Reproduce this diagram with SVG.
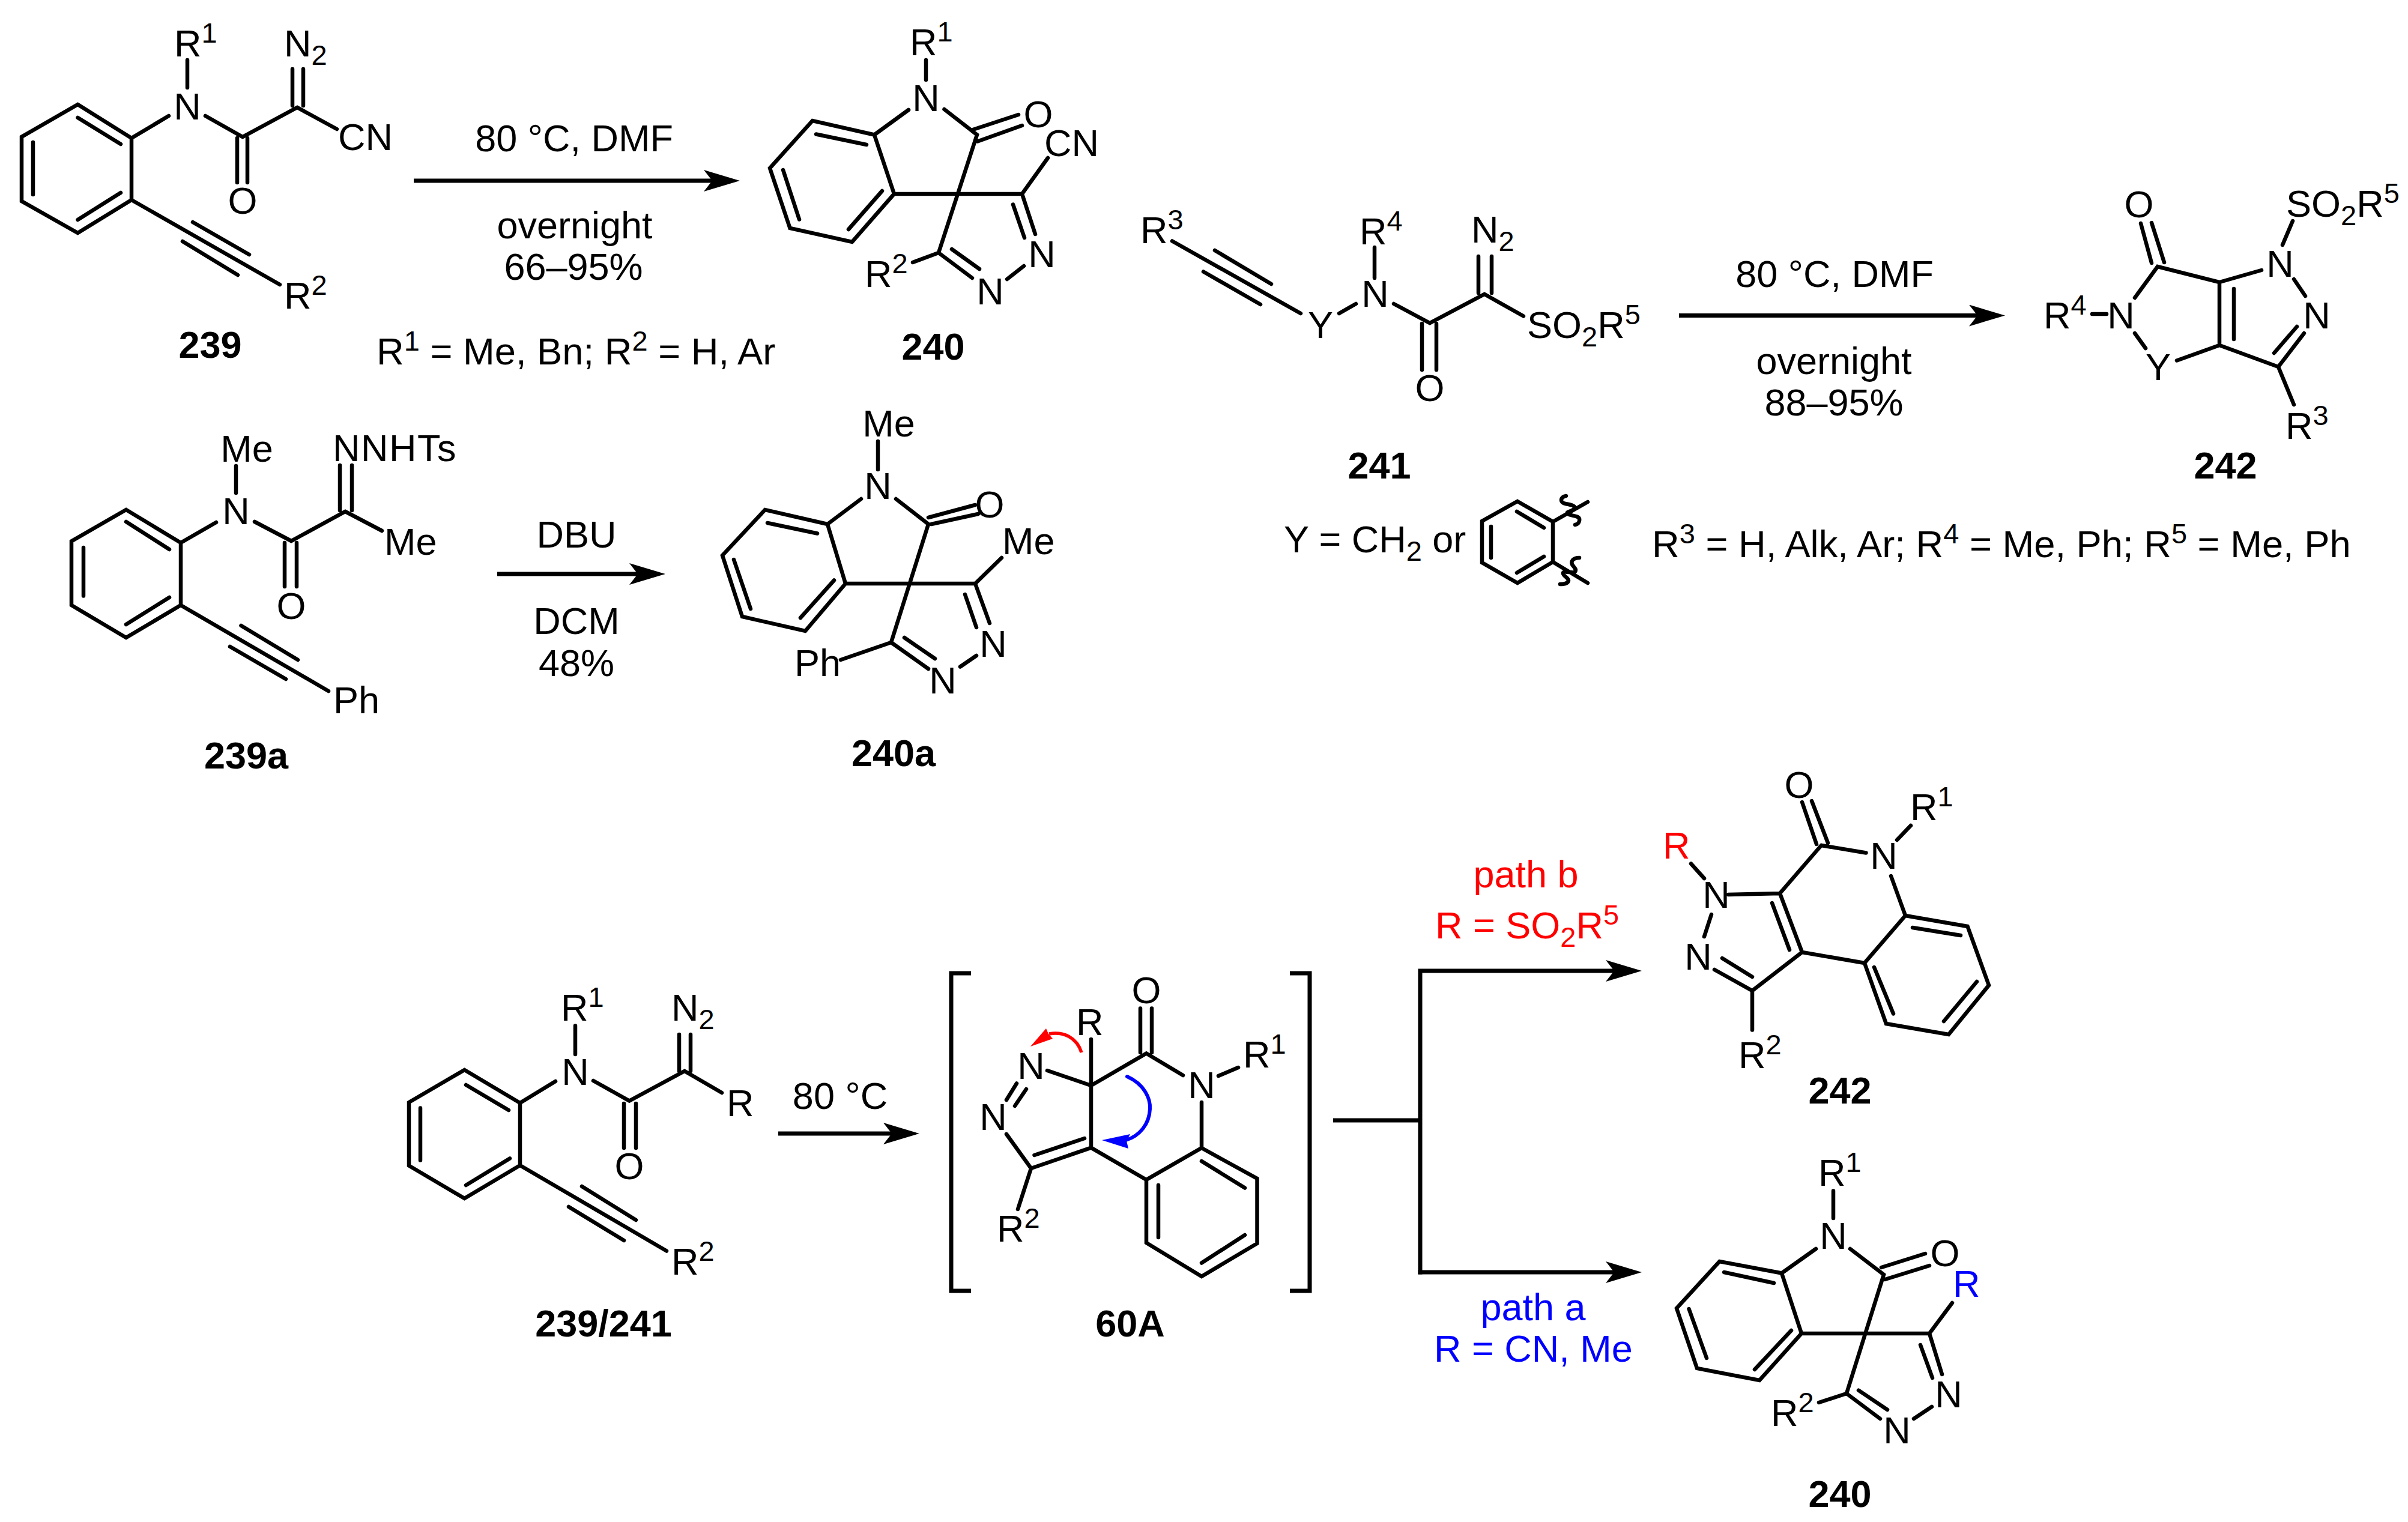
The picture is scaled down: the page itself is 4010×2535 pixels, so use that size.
<svg xmlns="http://www.w3.org/2000/svg" width="4010" height="2535" viewBox="0 0 4010 2535">
<style>
text{font-family:"Liberation Sans",Arial,sans-serif;font-size:63px;fill:#000}
.m{text-anchor:middle}
.h{font-weight:700;text-anchor:middle}
.s{font-size:47px}
.w{font-size:63.300px}
.b{fill:none;stroke:#000;stroke-width:6.500;stroke-linecap:round;stroke-linejoin:miter}
.a{fill:none;stroke:#000;stroke-width:7}
.red{fill:#f00}
.blue{fill:#00f}
</style>
<defs>
<marker id="head" markerUnits="userSpaceOnUse" viewBox="0 0 60 36" refX="14" refY="18" markerWidth="60" markerHeight="36" orient="auto"><path d="M60 18L0 0L14 18L0 36Z" fill="#000"/></marker>
</defs>
<rect width="4010" height="2535" fill="#fff"/>
<g id="connectors">
<path class="a" marker-end="url(#head)" d="M689 301H1186"/>
<path class="a" marker-end="url(#head)" d="M2796 525.500H3293"/>
<path class="a" marker-end="url(#head)" d="M828 956H1062"/>
<path class="a" marker-end="url(#head)" d="M1296 1888H1485"/>
<path class="a" d="M2220 1866H2365"/>
<path class="a" marker-end="url(#head)" d="M2365 2122.500V1617H2688"/>
<path class="a" marker-end="url(#head)" d="M2361.500 2119H2688"/>
<path fill="none" stroke="#f00" stroke-width="5.500" d="M1801 1753C1793 1728 1772 1718 1747 1722"/>
<path fill="#f00" d="M1716 1743L1742 1713L1746 1722L1753 1730Z"/>
<path fill="none" stroke="#00f" stroke-width="6" stroke-linecap="round" d="M1877 1793C1906 1806 1916 1830 1915 1847C1914 1872 1898 1892 1875 1899"/>
<path fill="#00f" d="M1835 1899L1882 1889L1876 1900L1879 1913Z"/>
</g>
<g id="reaction-labels">
<text class="m" x="956" y="252">80 °C, DMF</text>
<text class="m" x="957" y="397">overnight</text>
<text class="m" x="955" y="466">66–95%</text>
<text class="w" x="627" y="607">R<tspan class="s" dy="-23">1</tspan><tspan dy="23"> = Me, Bn; R</tspan><tspan class="s" dy="-23">2</tspan><tspan dy="23"> = H, Ar</tspan></text>
<text class="m" x="3055" y="478">80 °C, DMF</text>
<text class="m" x="3054" y="623">overnight</text>
<text class="m" x="3054" y="692">88–95%</text>
<text x="2138" y="920">Y = CH<tspan class="s" dy="14">2</tspan><tspan dy="-14"> or</tspan></text>
<text class="w" x="2751" y="928">R<tspan class="s" dy="-23">3</tspan><tspan dy="23"> = H, Alk, Ar; R</tspan><tspan class="s" dy="-23">4</tspan><tspan dy="23"> = Me, Ph; R</tspan><tspan class="s" dy="-23">5</tspan><tspan dy="23"> = Me, Ph</tspan></text>
<text class="m" x="960" y="912">DBU</text>
<text class="m" x="960" y="1056">DCM</text>
<text class="m" x="960" y="1126">48%</text>
<text class="m" x="1399" y="1847">80 °C</text>
<text class="m red" x="2541" y="1478">path b</text>
<text class="red" x="2390" y="1563">R = SO<tspan class="s" dy="14">2</tspan><tspan dy="-14">R</tspan><tspan class="s" dy="-23">5</tspan></text>
<text class="m blue" x="2553" y="2199">path a</text>
<text class="blue" x="2388" y="2268">R = CN, Me</text>
</g>
<g id="node-239">
<path class="b" d="M129.500 174L219 230V333L129.500 388L36 335V228ZM55 237V324M129.500 196L201 240M201 321L129.500 366M219 230L281 193M342 193L404 228L495 179L561 215M312 100V146M395 230V304M412 230V304M487 115V176M505 115V176M219 333L466 474M321 370L415 424M304 402L396 458"/>
<text x="473" y="514">R<tspan class="s" dy="-23">2</tspan></text>
<text x="290" y="94">R<tspan class="s" dy="-23">1</tspan></text>
<text class="m" x="312" y="199">N</text>
<text x="473" y="94">N<tspan class="s" dy="14">2</tspan></text>
<text x="563" y="250">CN</text>
<text class="m" x="404" y="356">O</text>
<text class="h" x="350" y="596">239</text>
</g>
<g id="node-240">
<path class="b" d="M1456 224.500L1353 201L1282 280L1315.500 380L1419 403L1489 323ZM1359 223.500L1443 241M1304 283L1331 365.500M1413 382L1469 318M1513 183L1456 224.500M1572.500 182L1627 224.500L1563 421M1620 216L1696 191M1628 235.500L1702 209M1489 323H1702L1745 263M1702 323L1724 390M1687 340.600L1706 396M1705 443L1677 465M1563 421L1619 463M1585 415L1631 448M1563 421L1520 437M1542 100V133"/>
<text x="1515" y="92">R<tspan class="s" dy="-23">1</tspan></text>
<text class="m" x="1542" y="185">N</text>
<text class="m" x="1729" y="212">O</text>
<text x="1739" y="260">CN</text>
<text class="m" x="1735" y="445">N</text>
<text class="m" x="1649" y="507">N</text>
<text x="1440" y="478">R<tspan class="s" dy="-23">2</tspan></text>
<text class="h" x="1554" y="599">240</text>
</g>
<g id="node-241">
<path class="b" d="M1952 401.500L2166 522M2023 417L2117 473M2004 452.500L2099 507M2230 522L2258 506M2289 412V463M2321 506L2381 538L2472 490L2537 526.500M2368 539V616M2392 539V616M2462 427V488M2484 427V488"/>
<text x="1899" y="405">R<tspan class="s" dy="-23">3</tspan></text>
<text x="2264" y="407">R<tspan class="s" dy="-23">4</tspan></text>
<text x="2450" y="404">N<tspan class="s" dy="14">2</tspan></text>
<text class="m" x="2199" y="563">Y</text>
<text class="m" x="2290" y="511">N</text>
<text x="2543" y="563">SO<tspan class="s" dy="14">2</tspan><tspan dy="-14">R</tspan><tspan class="s" dy="-23">5</tspan></text>
<text class="m" x="2381" y="668">O</text>
<text class="h" x="2297" y="797">241</text>
</g>
<g id="node-242">
<path class="b" d="M3565 372L3583 438M3583 371L3604 437M3555 496L3593 444L3696 470V575L3625 600.500M3720 481V565M3696 470L3766 450M3818 368L3801 408M3820 465L3839 493M3837 555L3794 611L3696 575M3825 544L3787 588M3794 611L3820 674M3555 555L3573 580M3484 523H3508"/>
<text class="m" x="3562" y="362">O</text>
<text x="3403" y="547">R<tspan class="s" dy="-23">4</tspan></text>
<text class="m" x="3532" y="547">N</text>
<text class="m" x="3594" y="633">Y</text>
<text class="m" x="3797" y="461">N</text>
<text class="m" x="3858" y="547">N</text>
<text x="3807" y="361">SO<tspan class="s" dy="14">2</tspan><tspan dy="-14">R</tspan><tspan class="s" dy="-23">5</tspan></text>
<text x="3806" y="731">R<tspan class="s" dy="-23">3</tspan></text>
<text class="h" x="3706" y="797">242</text>
</g>
<g id="node-y-arene">
<path class="b" d="M2527 835L2586 869V936L2527 971L2468 937V868ZM2526 852L2571 879M2571 927L2526 954M2483 877V929M2586 869L2644 836M2586 936L2644 971M2608 826C2598 828 2597 837 2607 839C2617 841 2623 842 2622 846C2620 852 2608 852 2610 855C2614 860 2628 858 2630 864C2631 869 2628 873 2623 874M2630 929C2619 929 2616 935 2618 940C2621 945 2626 948 2623 952C2620 956 2606 950 2603 954C2602 959 2612 962 2612 967C2611 972 2604 973 2598 973"/>
</g>
<g id="node-239a">
<path class="b" d="M210 849L301 904V1008L210 1062L119 1008V901.500ZM139 912V992.600M210 869L282 915M282 995L210 1040M301 904L360 870M424 869L485 901L575 852L636 884M393 776V821M474 904V977M494 904V977M566 775V850M586 775V850M301 1008L547 1151M401.500 1042L496 1099M383 1077L476 1131"/>
<text class="m" x="411" y="769">Me</text>
<text class="m" x="393" y="873">N</text>
<text x="554" y="768" letter-spacing="1.500">NNHTs</text>
<text x="640" y="924">Me</text>
<text class="m" x="485" y="1031">O</text>
<text x="555" y="1188">Ph</text>
<text class="h" x="410" y="1280">239a</text>
</g>
<g id="node-240a">
<path class="b" d="M1378 873L1274 849L1203 925L1236 1027L1341 1051L1408 972ZM1278 871L1361 888.500M1222 932L1250 1014M1389 966.500L1333 1029M1434 831L1378 873M1492 831L1546 873L1484 1070M1546 862L1624 841M1551 873L1629 856M1408 972H1624L1668 929M1624 972L1648 1038M1607 990L1626 1045M1626 1092L1599 1110.500M1484 1070L1546 1114M1506 1062L1557 1097M1484 1070L1400 1099M1462 735V782"/>
<text class="m" x="1480" y="727">Me</text>
<text class="m" x="1462" y="831">N</text>
<text class="m" x="1648" y="862">O</text>
<text x="1669" y="923">Me</text>
<text class="m" x="1654" y="1094">N</text>
<text class="m" x="1570" y="1155">N</text>
<text x="1323" y="1126">Ph</text>
<text class="h" x="1488" y="1276">240a</text>
</g>
<g id="node-239-241">
<path class="b" d="M773.500 1782L866 1837V1941L773.500 1996L681 1941.500V1836ZM700 1845.500V1932.600M776 1807L847 1849M849 1929.500L776 1974M866 1837L925 1801M988 1800L1048 1833.500L1140 1784L1202 1820M958 1708.500V1756M1039 1838V1912M1059 1838V1912M1131 1723V1784M1150 1723V1784M866 1941L1110 2083.500M969 1976L1059 2032M947 2010L1039 2066"/>
<text x="934" y="1700">R<tspan class="s" dy="-23">1</tspan></text>
<text class="m" x="958" y="1807">N</text>
<text x="1118" y="1700">N<tspan class="s" dy="14">2</tspan></text>
<text x="1210" y="1859">R</text>
<text class="m" x="1048" y="1964">O</text>
<text x="1118" y="2123">R<tspan class="s" dy="-23">2</tspan></text>
<text class="h" x="1005" y="2226">239/241</text>
</g>
<g id="node-60A">
<path fill="none" stroke="#000" stroke-width="7" d="M1617 1621H1584V2150H1617M2148 1621H2181V2150H2148"/>
<path class="b" d="M1899 1679.500V1753M1918 1679.500V1753M1817 1731V1911.600M1744 1783L1817 1808L1909 1754.500L1970 1791M2029 1792L2062 1778M2001 1836V1912M2001 1912L2093.500 1963V2071L2001 2126L1909 2070V1965ZM1817 1911.600L1909 1965M2001 1934L2073 1978.600M2073 2057L2001 2103.600M1929 1974V2061M1817 1911.600L1717 1946L1676 1889M1806 1896L1722.500 1924M1693 1804.500L1676 1832M1709 1814L1690 1842M1717 1946L1695 2014"/>
<text class="m" x="1909" y="1671">O</text>
<text x="1792" y="1724">R</text>
<text class="m" x="2001" y="1829">N</text>
<text x="2070" y="1778">R<tspan class="s" dy="-23">1</tspan></text>
<text class="m" x="1717" y="1797">N</text>
<text class="m" x="1654" y="1882">N</text>
<text x="1660" y="2068">R<tspan class="s" dy="-23">2</tspan></text>
<text class="h" x="1882" y="2226">60A</text>
</g>
<g id="node-242b">
<path class="b" d="M3001 1336L3025 1406M3017 1334L3044 1404M3033 1408L3107.500 1420.500M3159 1399L3182 1375M3149 1459L3173 1525M3173 1525L3276.500 1543L3312 1641L3245 1723L3141 1705L3105 1604ZM3105 1604L3001 1586L2918 1650L2855 1615M3001 1586L2964 1488L3033 1408M2951 1504L2980 1582M2816 1438.500L2838 1463M2878 1490L2964 1488M2850 1523L2838 1560M2868 1596L2918 1627M2918 1650V1715.600M3185 1545L3265 1558M3237 1701L3292 1635M3121 1611L3153 1688.500"/>
<text class="m" x="2996" y="1329">O</text>
<text class="m" x="3137" y="1447">N</text>
<text x="3181" y="1366">R<tspan class="s" dy="-23">1</tspan></text>
<text class="red" x="2769" y="1430">R</text>
<text class="m" x="2858" y="1512">N</text>
<text class="m" x="2828" y="1615">N</text>
<text x="2895" y="1779">R<tspan class="s" dy="-23">2</tspan></text>
<text class="h" x="3064" y="1838">242</text>
</g>
<g id="node-240b">
<path class="b" d="M2967 2120.500L2863.500 2101L2792 2179L2826 2279L2930 2299L3000 2221ZM2871 2119L2954 2137M2812.500 2180L2842 2262M2922 2281L2983 2216M3024 2080L2967 2120.500M3053 1983.600V2029M3081 2080L3137 2123L3075 2321M3133 2111L3206 2088M3139 2131L3213 2108M3000 2221H3213L3251 2170M3213 2221L3234 2289M3198 2240L3218 2295M3217 2343L3187 2363M3075 2321L3131 2363M3095 2315.600L3143 2348M3075 2321L3029 2336"/>
<text x="3028" y="1975">R<tspan class="s" dy="-23">1</tspan></text>
<text class="m" x="3053" y="2080">N</text>
<text class="m" x="3239" y="2109">O</text>
<text class="blue" x="3252" y="2160">R</text>
<text class="m" x="3245" y="2344">N</text>
<text class="m" x="3159" y="2404">N</text>
<text x="2949" y="2375">R<tspan class="s" dy="-23">2</tspan></text>
<text class="h" x="3064" y="2510">240</text>
</g>
</svg>
